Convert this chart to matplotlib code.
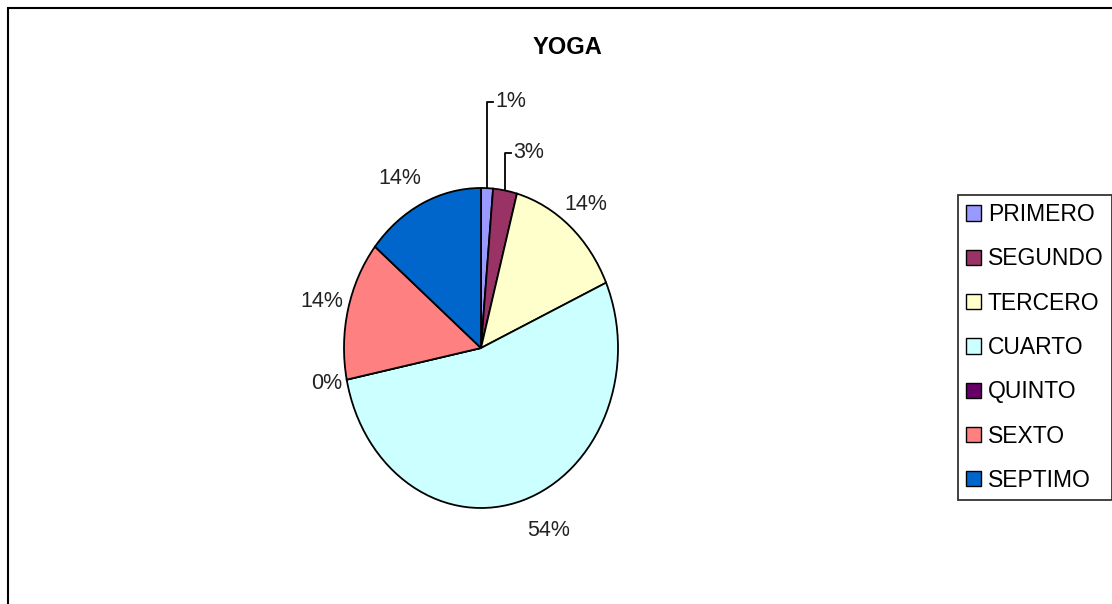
import numpy as np
import matplotlib.pyplot as plt
from matplotlib.patches import Rectangle

plt.rcParams['font.family'] = ['Liberation Sans', 'DejaVu Sans']

# datos
categorias = ['PRIMERO', 'SEGUNDO', 'TERCERO', 'CUARTO', 'QUINTO', 'SEXTO', 'SEPTIMO']
valores = [1, 2, 10, 38, 0, 10, 10]
colores = ['#9999FF', '#993366', '#FFFFCC', '#CCFFFF', '#660066', '#FF8080', '#0066CC']
titulo = 'YOGA'

W, H = 1112, 604
fig = plt.figure(figsize=(W / 100, H / 100), dpi=100)

# ejes en toda la figura; el pie se estira en vertical (elipse)
cx, cy = 481, 348      # centro en pixeles
rx, ry = 137, 160      # radios en pixeles
ax = fig.add_axes([0, 0, 1, 1])

total = sum(valores)
etiquetas = ['%d%%' % round(100 * v / total) for v in valores]

wedges, textos = ax.pie(valores, colors=colores, startangle=90, counterclock=False,
                        labels=etiquetas, labeldistance=1.18,
                        wedgeprops=dict(edgecolor='black', linewidth=1.3),
                        textprops=dict(fontsize=15.5, color='#222222'))
ax.set_xlim(-cx / rx, (W - cx) / rx)
ax.set_ylim(-(H - cy) / ry, cy / ry)
ax.set_aspect('auto')
ax.axis('off')

# etiquetas pequeñas con linea guia
guias = {0: 1.54, 1: 1.22}
for i, ytop in guias.items():
    w = wedges[i]
    ang = np.deg2rad((w.theta1 + w.theta2) / 2)
    x0, y0 = np.cos(ang), np.sin(ang)
    ax.plot([x0, x0, x0 + 0.045], [y0, ytop, ytop], color='black', lw=1.3)
    textos[i].set_position((x0 + 0.06, ytop))
    textos[i].set_ha('left')
    textos[i].set_va('center')

# pequeños ajustes (pixeles) como en el original
ajustes = {3: (18, 3), 6: (-12, 1), 5: (-2, -1), 4: (4, -2)}
for i, t in enumerate(textos):
    if i in guias:
        continue
    t.set_va('center')
    t.set_ha('center')
    if i in ajustes:
        x, y = t.get_position()
        dx, dy = ajustes[i]
        t.set_position((x + dx / rx, y - dy / ry))

fig.text(567 / W, 1 - 48 / H, titulo, ha='center', va='center', fontsize=17, fontweight='bold')

# marco exterior
fig.patches.append(Rectangle((8 / W, -0.1), 1.2, 1 - 8 / H + 0.1, transform=fig.transFigure,
                             fill=False, edgecolor='black', linewidth=1.5))

handles = [Rectangle((0, 0), 1, 1, facecolor=c, edgecolor='black', lw=1) for c in colores]
leg = fig.legend(handles, categorias, loc='upper left', bbox_to_anchor=(958 / W, 1 - 195 / H),
                 fontsize=16.5, frameon=True, fancybox=False, edgecolor='black',
                 handlelength=0.65, handleheight=0.65, handletextpad=0.3,
                 labelspacing=0.93, borderpad=0.35, borderaxespad=0)
leg.get_frame().set_linewidth(1.3)

fig.savefig('out.png', dpi=100)
